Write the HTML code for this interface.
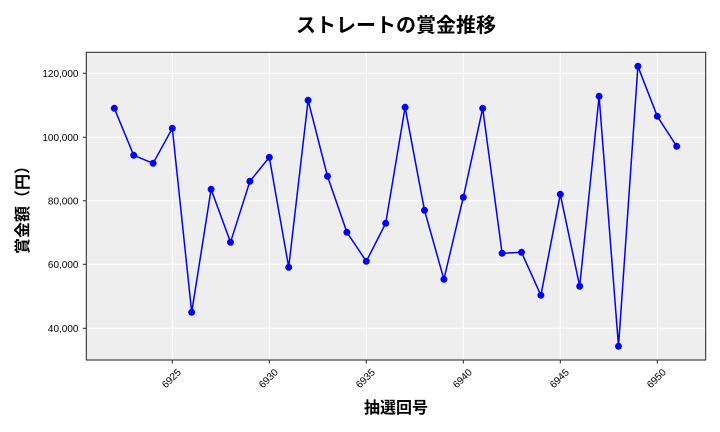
<!DOCTYPE html>
<html><head><meta charset="utf-8"><style>
html,body{margin:0;padding:0;background:#fff;}
svg{display:block;}
text{font-family:"Liberation Sans","Noto Sans CJK JP",sans-serif;fill:#000;}
</style></head><body>
<svg width="720" height="432" viewBox="0 0 720 432" xmlns="http://www.w3.org/2000/svg">
<rect x="86.3" y="52.3" width="619.4" height="307.7" fill="#eeeeee"/>
<g stroke="#ffffff" stroke-width="1">
<line x1="172.3" y1="52.3" x2="172.3" y2="360"/>
<line x1="269.3" y1="52.3" x2="269.3" y2="360"/>
<line x1="366.3" y1="52.3" x2="366.3" y2="360"/>
<line x1="463.3" y1="52.3" x2="463.3" y2="360"/>
<line x1="560.3" y1="52.3" x2="560.3" y2="360"/>
<line x1="657.3" y1="52.3" x2="657.3" y2="360"/>
<line x1="86.3" y1="73.3" x2="705.7" y2="73.3"/>
<line x1="86.3" y1="137.3" x2="705.7" y2="137.3"/>
<line x1="86.3" y1="200.8" x2="705.7" y2="200.8"/>
<line x1="86.3" y1="264.3" x2="705.7" y2="264.3"/>
<line x1="86.3" y1="328.3" x2="705.7" y2="328.3"/>
</g>
<rect x="86.3" y="52.3" width="619.4" height="307.7" fill="none" stroke="#222" stroke-width="1"/>
<g stroke="#222" stroke-width="1">
<line x1="172.3" y1="360" x2="172.3" y2="363.5"/>
<line x1="269.3" y1="360" x2="269.3" y2="363.5"/>
<line x1="366.3" y1="360" x2="366.3" y2="363.5"/>
<line x1="463.3" y1="360" x2="463.3" y2="363.5"/>
<line x1="560.3" y1="360" x2="560.3" y2="363.5"/>
<line x1="657.3" y1="360" x2="657.3" y2="363.5"/>
<line x1="82.8" y1="73.3" x2="86.3" y2="73.3"/>
<line x1="82.8" y1="137.3" x2="86.3" y2="137.3"/>
<line x1="82.8" y1="200.8" x2="86.3" y2="200.8"/>
<line x1="82.8" y1="264.3" x2="86.3" y2="264.3"/>
<line x1="82.8" y1="328.3" x2="86.3" y2="328.3"/>
</g>
<g font-size="10" text-anchor="end">
<text x="78.5" y="76.8">120,000</text>
<text x="78.5" y="140.8">100,000</text>
<text x="78.5" y="204.3">80,000</text>
<text x="78.5" y="267.8">60,000</text>
<text x="78.5" y="331.8">40,000</text>
</g>
<g font-size="10" text-anchor="middle" dominant-baseline="central">
<text transform="translate(172,379) rotate(-45)">6925</text>
<text transform="translate(269,379) rotate(-45)">6930</text>
<text transform="translate(366,379) rotate(-45)">6935</text>
<text transform="translate(463,379) rotate(-45)">6940</text>
<text transform="translate(560,379) rotate(-45)">6945</text>
<text transform="translate(657,379) rotate(-45)">6950</text>
</g>
<polyline fill="none" stroke="#0000ff" stroke-width="1.5" stroke-linejoin="round" points="114.3,108.3 133.7,155.3 153.1,163.3 172.3,128.3 191.7,312.3 211.1,189.3 230.5,242.3 249.9,181.3 269.3,157.3 288.7,267.3 308.1,100.3 327.5,176.3 346.9,232.3 366.3,261.3 385.7,223.3 405.1,107.3 424.5,210.3 443.9,279.3 463.3,197.3 482.7,108.3 502.1,253.3 521.5,252.3 540.9,295.3 560.3,194.3 579.7,286.3 599.1,96.3 618.5,346.3 637.9,66.3 657.3,116.3 676.7,146.3"/>
<g fill="#0000ff">
<circle cx="114.3" cy="108.3" r="3.5"/><circle cx="133.7" cy="155.3" r="3.5"/><circle cx="153.1" cy="163.3" r="3.5"/><circle cx="172.3" cy="128.3" r="3.5"/><circle cx="191.7" cy="312.3" r="3.5"/><circle cx="211.1" cy="189.3" r="3.5"/><circle cx="230.5" cy="242.3" r="3.5"/><circle cx="249.9" cy="181.3" r="3.5"/><circle cx="269.3" cy="157.3" r="3.5"/><circle cx="288.7" cy="267.3" r="3.5"/><circle cx="308.1" cy="100.3" r="3.5"/><circle cx="327.5" cy="176.3" r="3.5"/><circle cx="346.9" cy="232.3" r="3.5"/><circle cx="366.3" cy="261.3" r="3.5"/><circle cx="385.7" cy="223.3" r="3.5"/><circle cx="405.1" cy="107.3" r="3.5"/><circle cx="424.5" cy="210.3" r="3.5"/><circle cx="443.9" cy="279.3" r="3.5"/><circle cx="463.3" cy="197.3" r="3.5"/><circle cx="482.7" cy="108.3" r="3.5"/><circle cx="502.1" cy="253.3" r="3.5"/><circle cx="521.5" cy="252.3" r="3.5"/><circle cx="540.9" cy="295.3" r="3.5"/><circle cx="560.3" cy="194.3" r="3.5"/><circle cx="579.7" cy="286.3" r="3.5"/><circle cx="599.1" cy="96.3" r="3.5"/><circle cx="618.5" cy="346.3" r="3.5"/><circle cx="637.9" cy="66.3" r="3.5"/><circle cx="657.3" cy="116.3" r="3.5"/><circle cx="676.7" cy="146.3" r="3.5"/>
</g>
<text x="396" y="32" font-size="20" font-weight="bold" text-anchor="middle">ストレートの賞金推移</text>
<text x="396" y="413" font-size="16" font-weight="bold" text-anchor="middle">抽選回号</text>
<text transform="translate(28,206) rotate(-90)" font-size="16" font-weight="bold" text-anchor="middle">賞金額（円）</text>
</svg>
</body></html>
